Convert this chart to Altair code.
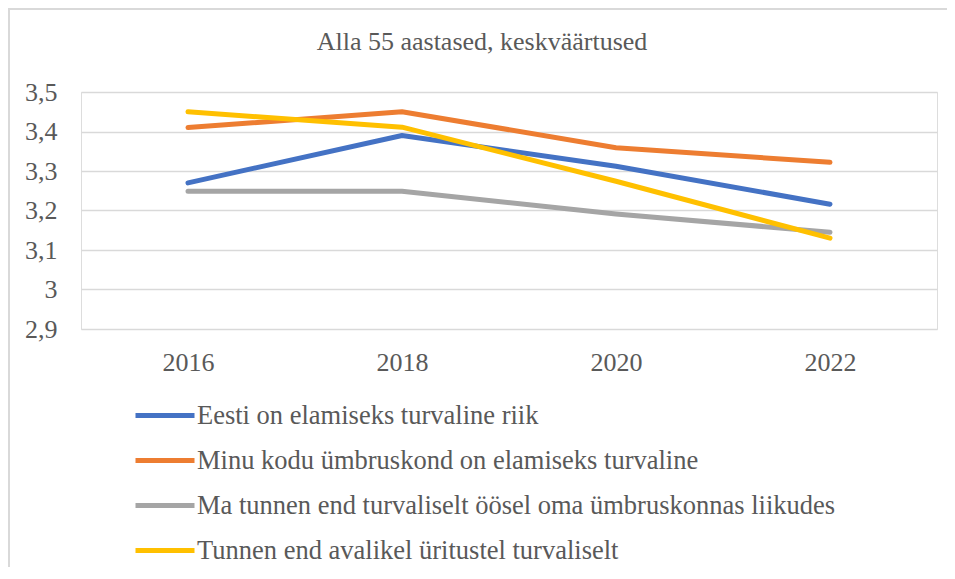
import altair as alt
import pandas as pd

years = ["2016", "2018", "2020", "2022"]
series_names = [
    "Eesti on elamiseks turvaline riik",
    "Minu kodu ümbruskond on elamiseks turvaline",
    "Ma tunnen end turvaliselt öösel oma ümbruskonnas liikudes",
    "Tunnen end avalikel üritustel turvaliselt",
]
eesti = [3.27, 3.39, 3.312, 3.216]
kodu = [3.41, 3.45, 3.359, 3.322]
oosel = [3.249, 3.249, 3.191, 3.145]
yritused = [3.45, 3.411, 3.274, 3.13]
colors = ["#4472C4", "#ED7D31", "#A5A5A5", "#FFC000"]
y_ticks = [2.9, 3.0, 3.1, 3.2, 3.3, 3.4, 3.5]

rows = []
for name, vals in zip(series_names, [eesti, kodu, oosel, yritused]):
    for yr, v in zip(years, vals):
        rows.append({"aasta": yr, "väärtus": v, "seeria": name})
df = pd.DataFrame(rows)

FONT = "Liberation Serif"
TXT = "#595959"

lines = alt.Chart(df).mark_line(strokeWidth=5, strokeCap="round", strokeJoin="round").encode(
    x=alt.X("aasta:O", title=None, sort=years,
            axis=alt.Axis(labelAngle=0, labelPadding=20, ticks=False, domain=False, grid=False,
                          labelFontSize=26, labelFont=FONT, labelColor=TXT)),
    y=alt.Y("väärtus:Q", title=None, scale=alt.Scale(domain=[2.9, 3.5], nice=False, zero=False),
            axis=alt.Axis(values=y_ticks, labelExpr="replace(format(datum.value, '~g'), '.', ',')",
                          labelPadding=24, ticks=False, domain=False, grid=True,
                          gridColor="#D9D9D9", gridWidth=1.5,
                          labelFontSize=26, labelFont=FONT, labelColor=TXT)),
    color=alt.Color("seeria:N", sort=series_names,
                    scale=alt.Scale(domain=series_names, range=colors),
                    legend=alt.Legend(title=None, orient="none", legendX=52, legendY=301,
                                      direction="vertical", symbolType="stroke",
                                      symbolSize=3481, symbolStrokeWidth=5,
                                      labelOffset=0, labelLimit=1000, rowPadding=0,
                                      clipHeight=45,
                                      labelFontSize=26.5, labelFont=FONT, labelColor=TXT)),
    order=alt.Order("seeria:N"),
)

border_src = pd.DataFrame({"k": [0]})
frame = alt.Chart(border_src).mark_rect(fill="white", fillOpacity=0, stroke="#D9D9D9",
                                        strokeWidth=2).encode(
    x=alt.value(-72), x2=alt.value(885), y=alt.value(-83), y2=alt.value(495))

chart = alt.layer(frame, lines).properties(
    width=856, height=237,
    title=alt.TitleParams("Alla 55 aastased, keskväärtused", font=FONT, fontSize=26,
                          fontWeight="normal", color=TXT, anchor="middle", dx=-27, offset=-47),
    padding={"left": 73, "top": 84, "right": 10, "bottom": 238},
    autosize=alt.AutoSizeParams(type="none"),
).configure_view(stroke=None).configure(background="white")

chart.save("out.html", embed_options={"renderer": "svg", "actions": False})
